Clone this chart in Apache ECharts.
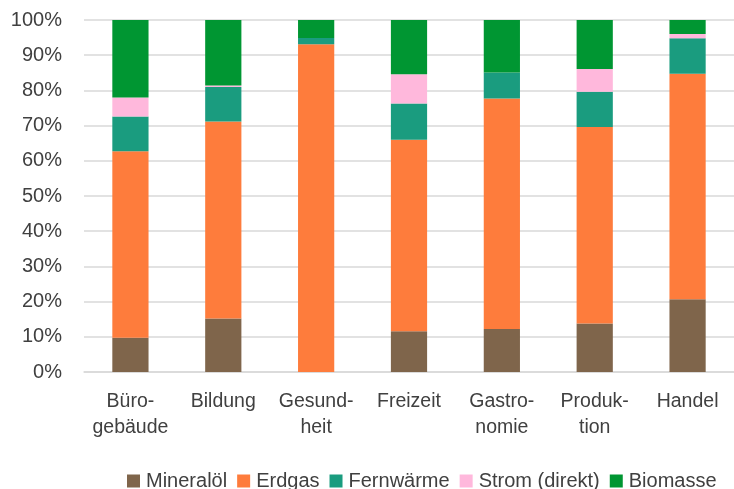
<!DOCTYPE html>
<html lang="de">
<head>
<meta charset="UTF-8">
<title>Energieträger nach Gebäudetyp</title>
<script src="https://cdn.jsdelivr.net/npm/echarts@6/dist/echarts.min.js"></script>
<style>
    html, body { margin: 0; padding: 0; background: #fff; }
    #chart { width: 734px; height: 489px; }
</style>
</head>
<body>
<div id="chart"></div>
<script>
    // Anteile in Prozent, von unten nach oben gestapelt
    var categories = ['Büro-\ngebäude', 'Bildung', 'Gesund-\nheit', 'Freizeit', 'Gastro-\nnomie', 'Produk-\ntion', 'Handel'];
    var mineraloel = [9.7, 15.2, 0, 11.6, 12.2, 13.8, 20.7];
    var erdgas = [53.0, 56.0, 93.1, 54.4, 65.5, 55.8, 64.0];
    var fernwaerme = [9.9, 9.8, 1.8, 10.3, 7.4, 10.0, 10.1];
    var strom = [5.4, 0.4, 0, 8.3, 0, 6.5, 1.2];
    var biomasse = [22.0, 18.6, 5.1, 15.4, 14.9, 13.9, 4.0];
    var yTicks = [0, 10, 20, 30, 40, 50, 60, 70, 80, 90, 100];

    var font = 'Liberation Sans, Arial, sans-serif';
    var textColor = '#404040';

    function bar(name, data, color) {
        return {
            name: name,
            type: 'bar',
            stack: 'total',
            barWidth: '39%',
            data: data,
            itemStyle: { color: color }
        };
    }

    var chart = echarts.init(document.getElementById('chart'));
    chart.setOption({
        animation: false,
        grid: { left: 84, top: 20, width: 660, height: 352 },
        legend: {
            left: 122,
            top: 466,
            itemWidth: 13,
            itemHeight: 13,
            itemGap: 10,
            icon: 'rect',
            textStyle: { fontFamily: font, fontSize: 20, color: textColor, padding: [0, 0, 0, 1] },
            data: ['Mineralöl', 'Erdgas', 'Fernwärme', 'Strom (direkt)', 'Biomasse']
        },
        xAxis: {
            type: 'category',
            data: categories,
            axisLine: { lineStyle: { color: '#d9d9d9', width: 1.5 } },
            axisTick: { show: false },
            axisLabel: {
                margin: 17,
                fontFamily: font,
                fontSize: 19.5,
                lineHeight: 26,
                color: textColor,
                interval: 0
            }
        },
        yAxis: {
            type: 'value',
            min: yTicks[0],
            max: yTicks[yTicks.length - 1],
            interval: 10,
            axisLine: { show: false },
            axisTick: { show: false },
            splitLine: { lineStyle: { color: '#d9d9d9', width: 1.5 } },
            axisLabel: {
                margin: 22,
                fontFamily: font,
                fontSize: 20,
                color: textColor,
                formatter: '{value}%'
            }
        },
        series: [
            bar('Mineralöl', mineraloel, '#7f654b'),
            bar('Erdgas', erdgas, '#fe7c3c'),
            bar('Fernwärme', fernwaerme, '#1a9c7f'),
            bar('Strom (direkt)', strom, '#ffb8dc'),
            bar('Biomasse', biomasse, '#009632')
        ]
    });
</script>
</body>
</html>
